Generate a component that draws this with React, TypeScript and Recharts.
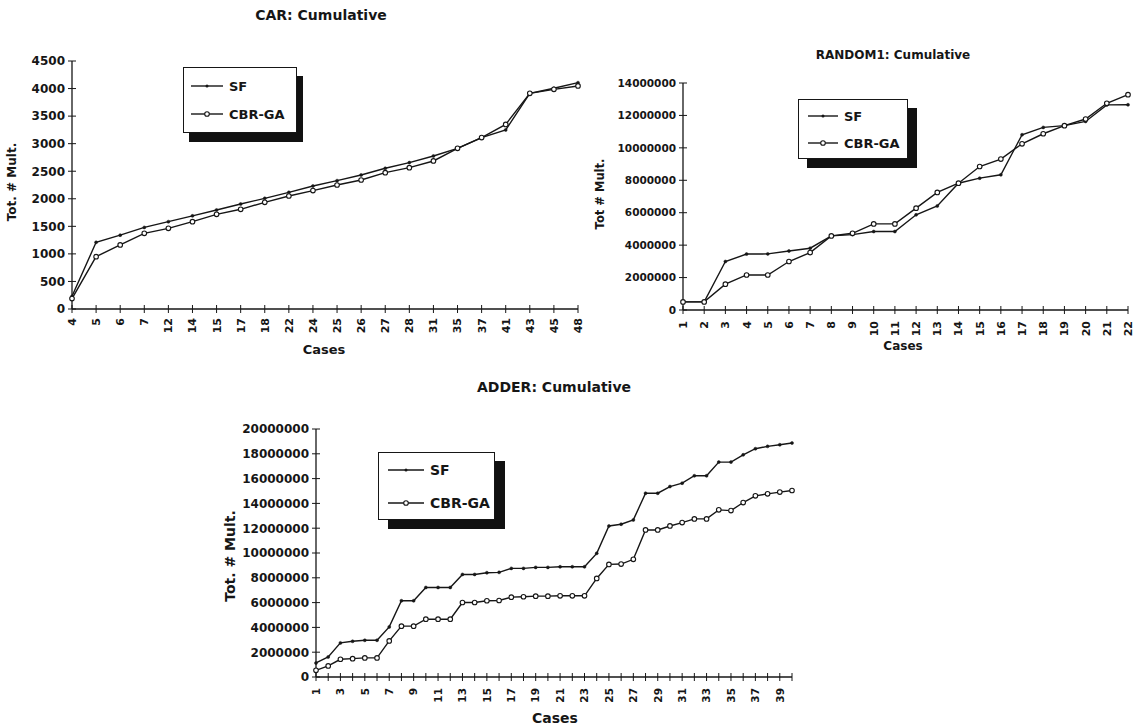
import React from "react";
import { LineChart, Line, XAxis, YAxis } from "recharts";

// CAR: Cumulative
const carCases = ["4", "5", "6", "7", "12", "14", "15", "17", "18", "22", "24", "25", "26", "27", "28", "31", "35", "37", "41", "43", "45", "48"];
const carSF = [230, 1210, 1340, 1480, 1585, 1690, 1797, 1906, 2008, 2117, 2232, 2329, 2432, 2553, 2656, 2777, 2916, 3110, 3250, 3914, 4005, 4107];
const carCBR = [190, 950, 1162, 1373, 1464, 1585, 1718, 1809, 1936, 2050, 2148, 2250, 2341, 2474, 2565, 2686, 2916, 3110, 3350, 3914, 3986, 4047];
const carYTicks = [0, 500, 1000, 1500, 2000, 2500, 3000, 3500, 4000, 4500];

// RANDOM1: Cumulative
const rndCases = ["1", "2", "3", "4", "5", "6", "7", "8", "9", "10", "11", "12", "13", "14", "15", "16", "17", "18", "19", "20", "21", "22"];
const rndSF = [500000, 500000, 2990000, 3450000, 3460000, 3640000, 3810000, 4570000, 4650000, 4840000, 4840000, 5870000, 6420000, 7820000, 8130000, 8340000, 10810000, 11260000, 11370000, 11630000, 12650000, 12660000];
const rndCBR = [500000, 500000, 1590000, 2160000, 2160000, 2990000, 3540000, 4570000, 4730000, 5310000, 5310000, 6280000, 7250000, 7820000, 8850000, 9310000, 10250000, 10870000, 11370000, 11780000, 12750000, 13280000];
const rndYTicks = [0, 2000000, 4000000, 6000000, 8000000, 10000000, 12000000, 14000000];

// ADDER: Cumulative
const addCases = ["1", "2", "3", "4", "5", "6", "7", "8", "9", "10", "11", "12", "13", "14", "15", "16", "17", "18", "19", "20", "21", "22", "23", "24", "25", "26", "27", "28", "29", "30", "31", "32", "33", "34", "35", "36", "37", "38", "39", "40"];
const addSF = [1130000, 1620000, 2750000, 2880000, 2960000, 2960000, 4040000, 6150000, 6150000, 7220000, 7220000, 7220000, 8270000, 8270000, 8410000, 8440000, 8760000, 8760000, 8840000, 8840000, 8890000, 8890000, 8890000, 9970000, 12180000, 12320000, 12670000, 14820000, 14820000, 15360000, 15630000, 16230000, 16230000, 17330000, 17330000, 17920000, 18410000, 18600000, 18730000, 18870000];
const addCBR = [540000, 890000, 1430000, 1480000, 1540000, 1540000, 2910000, 4100000, 4100000, 4660000, 4660000, 4660000, 6010000, 6010000, 6150000, 6170000, 6440000, 6470000, 6520000, 6520000, 6550000, 6550000, 6550000, 7950000, 9080000, 9110000, 9490000, 11860000, 11860000, 12180000, 12450000, 12750000, 12750000, 13480000, 13420000, 14070000, 14610000, 14770000, 14910000, 15040000];
const addYTicks = [0, 2000000, 4000000, 6000000, 8000000, 10000000, 12000000, 14000000, 16000000, 18000000, 20000000];

const INK = "#161616";
const FONT = '"DejaVu Sans", Verdana, sans-serif';

type PanelProps = {
  left: number;
  top: number;
  width: number;
  height: number;
  margin: { top: number; right: number; bottom: number; left: number };
  yWidth: number;
  cases: string[];
  sf: number[];
  cbr: number[];
  yTicks: number[];
  yFont: number;
  xFont: number;
  xGap: number;
  oddOnly?: boolean;
};

const Panel = (p: PanelProps) => {
  const rows = p.cases.map((c, i) => ({ name: c, sf: p.sf[i], cbr: p.cbr[i] }));
  const yMax = p.yTicks[p.yTicks.length - 1];

  const xTick = (t: any) => {
    const show = !p.oddOnly || t.index % 2 === 0;
    return (
      <g>
        <line x1={t.x} x2={t.x} y1={t.y - 4} y2={t.y + 4} stroke={INK} strokeWidth={1} />
        {show && (
          <text
            transform={`translate(${t.x},${t.y + p.xGap}) rotate(-90)`}
            textAnchor="end"
            dy="0.36em"
            fontSize={p.xFont}
            fontWeight="bold"
            fontFamily={FONT}
            fill={INK}
          >
            {t.payload.value}
          </text>
        )}
      </g>
    );
  };

  const yTick = (t: any) => (
    <g>
      <line x1={t.x - 4} x2={t.x + 4} y1={t.y} y2={t.y} stroke={INK} strokeWidth={1} />
      <text x={t.x - 7} y={t.y} dy="0.36em" textAnchor="end" fontSize={p.yFont} fontWeight="bold" fontFamily={FONT} fill={INK}>
        {String(t.payload.value)}
      </text>
    </g>
  );

  return (
    <div style={{ position: "absolute", left: p.left, top: p.top }}>
      <LineChart width={p.width} height={p.height} data={rows} margin={p.margin}>
        <XAxis
          dataKey="name"
          scale="point"
          interval={0}
          height={30}
          tickSize={0}
          tickMargin={0}
          tickLine={false}
          axisLine={{ stroke: INK, strokeWidth: 1.3 }}
          tick={xTick}
        />
        <YAxis
          type="number"
          domain={[0, yMax]}
          ticks={p.yTicks}
          interval={0}
          width={p.yWidth}
          tickSize={0}
          tickMargin={0}
          tickLine={false}
          axisLine={{ stroke: INK, strokeWidth: 1.3 }}
          tick={yTick}
        />
        <Line
          type="linear"
          dataKey="sf"
          stroke={INK}
          strokeWidth={1.4}
          dot={{ r: 1.5, fill: INK, stroke: INK, strokeWidth: 0.5 }}
          isAnimationActive={false}
        />
        <Line
          type="linear"
          dataKey="cbr"
          stroke={INK}
          strokeWidth={1.4}
          dot={{ r: 2.3, fill: "#fff", stroke: INK, strokeWidth: 1.1 }}
          isAnimationActive={false}
        />
      </LineChart>
    </div>
  );
};

type LegendProps = {
  left: number;
  top: number;
  width: number;
  height: number;
  dx: number;
  dy: number;
  lineX: number;
  lineW: number;
  row1: number;
  row2: number;
  font: number;
};

const BoxLegend = (l: LegendProps) => {
  const row = (y: number, label: string, open: boolean) => (
    <>
      <svg style={{ position: "absolute", left: l.lineX, top: y - 5 }} width={l.lineW} height={10}>
        <line x1={0} x2={l.lineW} y1={5} y2={5} stroke={INK} strokeWidth={1.4} />
        {open ? (
          <circle cx={l.lineW / 2} cy={5} r={2.3} fill="#fff" stroke={INK} strokeWidth={1.1} />
        ) : (
          <circle cx={l.lineW / 2} cy={5} r={1.5} fill={INK} />
        )}
      </svg>
      <div
        style={{
          position: "absolute",
          left: l.lineX + l.lineW + 6,
          top: y,
          transform: "translateY(-50%)",
          fontSize: l.font,
          fontWeight: "bold",
          fontFamily: FONT,
          color: INK,
          whiteSpace: "nowrap",
          lineHeight: 1,
        }}
      >
        {label}
      </div>
    </>
  );
  return (
    <div
      style={{
        position: "absolute",
        left: l.left,
        top: l.top,
        width: l.width,
        height: l.height,
        boxSizing: "border-box",
        border: `1.3px solid ${INK}`,
        background: "#fff",
        boxShadow: `${l.dx}px ${l.dy}px 0 0 #111`,
      }}
    >
      {row(l.row1, "SF", false)}
      {row(l.row2, "CBR-GA", true)}
    </div>
  );
};

const Txt = ({ x, y, size, text, rotate }: { x: number; y: number; size: number; text: string; rotate?: boolean }) => (
  <div
    style={{
      position: "absolute",
      left: x,
      top: y,
      transform: `translate(-50%, -50%)${rotate ? " rotate(-90deg)" : ""}`,
      fontSize: size,
      fontWeight: "bold",
      fontFamily: FONT,
      color: INK,
      whiteSpace: "nowrap",
      lineHeight: 1,
    }}
  >
    {text}
  </div>
);

export default function App() {
  return (
    <div style={{ position: "absolute", left: 0, top: 0, width: 1145, height: 727, background: "#fff", overflow: "hidden" }}>
      <Panel
        left={0}
        top={0}
        width={600}
        height={360}
        margin={{ top: 61, right: 22, bottom: 21, left: 12 }}
        yWidth={60}
        cases={carCases}
        sf={carSF}
        cbr={carCBR}
        yTicks={carYTicks}
        yFont={12}
        xFont={11}
        xGap={9}
      />
      <Panel
        left={590}
        top={0}
        width={555}
        height={360}
        margin={{ top: 83, right: 17, bottom: 20, left: 23 }}
        yWidth={70}
        cases={rndCases}
        sf={rndSF}
        cbr={rndCBR}
        yTicks={rndYTicks}
        yFont={10.5}
        xFont={11}
        xGap={11}
      />
      <Panel
        left={200}
        top={370}
        width={620}
        height={357}
        margin={{ top: 59, right: 28, bottom: 20, left: 36 }}
        yWidth={80}
        cases={addCases}
        sf={addSF}
        cbr={addCBR}
        yTicks={addYTicks}
        yFont={12}
        xFont={10.5}
        xGap={11}
        oddOnly
      />

      <BoxLegend left={183} top={67} width={114} height={66} dx={6} dy={9} lineX={7} lineW={32} row1={18} row2={46} font={13} />
      <BoxLegend left={798} top={99} width={110} height={60} dx={9} dy={9} lineX={9} lineW={30} row1={16} row2={43} font={13} />
      <BoxLegend left={378} top={452} width={117} height={68} dx={10} dy={9} lineX={9} lineW={36} row1={17} row2={50} font={14} />

      <Txt x={321} y={15} size={14} text="CAR: Cumulative" />
      <Txt x={893} y={55} size={12} text="RANDOM1: Cumulative" />
      <Txt x={554} y={387} size={14} text="ADDER: Cumulative" />

      <Txt x={12} y={182} size={12} text="Tot. # Mult." rotate />
      <Txt x={601} y={194} size={11.5} text="Tot # Mult." rotate />
      <Txt x={230} y={556} size={14} text="Tot. # Mult." rotate />

      <Txt x={324} y={349} size={13} text="Cases" />
      <Txt x={903} y={346} size={12} text="Cases" />
      <Txt x={555} y={718} size={14} text="Cases" />
    </div>
  );
}
